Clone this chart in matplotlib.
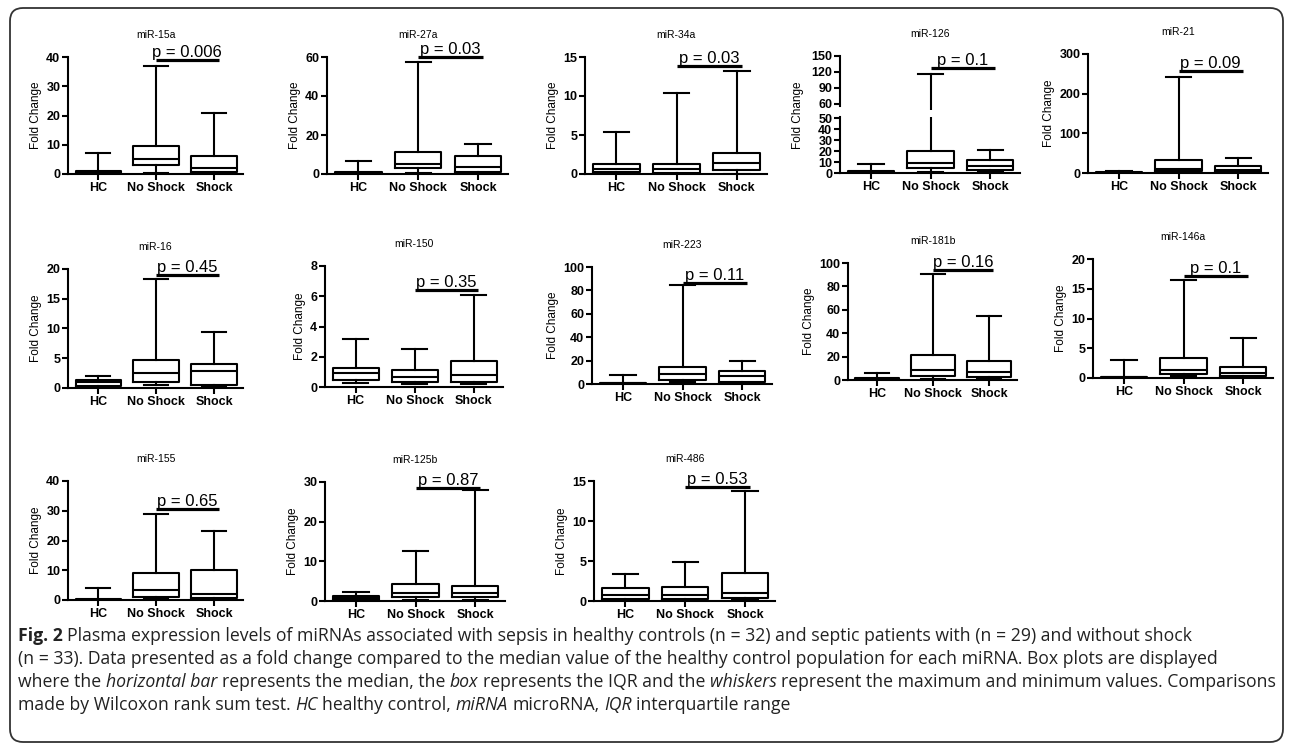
import matplotlib
matplotlib.use("Agg")
import matplotlib.pyplot as plt
from matplotlib.patches import FancyBboxPatch

groups = ["HC", "No Shock", "Shock"]
mirnas = ["miR-15a", "miR-27a", "miR-34a", "miR-126", "miR-21",
          "miR-16", "miR-150", "miR-223", "miR-181b", "miR-146a",
          "miR-155", "miR-125b", "miR-486"]

# one triple per miRNA: (HC, No Shock, Shock)
whisker_low = [(0.05, 0.3, 0.2), (0.05, 0.7, 0.5), (0.05, 0.02, 0.05), (0.2, 0.5, 0.5), (0.3, 1, 1),
               (0.1, 0.5, 0.3), (0.27, 0.18, 0.18), (0.1, 1.4, 0.5), (0.3, 0.9, 0.9), (0.02, 0.3, 0.15),
               (0.0, 0.2, 0.2), (0.1, 0.25, 0.25), (0.1, 0.1, 0.1)]
quartile_1 = [(0.2, 3.1, 0.8), (0.2, 2.9, 1.2), (0.2, 0.1, 0.55), (0.4, 4.5, 2.5), (0.6, 5, 3),
              (0.4, 0.95, 0.55), (0.45, 0.33, 0.33), (0.3, 3.7, 2.0), (0.5, 3.7, 2.3), (0.05, 0.7, 0.4),
              (0.05, 1.1, 0.8), (0.25, 1.1, 1.1), (0.3, 0.3, 0.35)]
medians = [(0.5, 5.0, 1.9), (0.5, 5.1, 3.4), (0.6, 0.65, 1.45), (0.9, 9, 6), (1.0, 10, 8),
           (0.95, 2.5, 2.8), (0.95, 0.65, 0.77), (0.8, 8.5, 7.1), (1.0, 8.5, 7.1), (0.1, 1.3, 0.85),
           (0.1, 3.2, 1.9), (0.7, 2.1, 2.1), (0.8, 0.8, 1.0)]
quartile_3 = [(0.9, 9.7, 6.3), (1.0, 11.5, 9.4), (1.3, 1.3, 2.7), (1.6, 19.6, 12.1), (2.0, 33, 16.5),
              (1.4, 4.65, 4.0), (1.25, 1.1, 1.72), (1.2, 14.2, 11.3), (1.5, 21.3, 16.2), (0.2, 3.35, 1.8),
              (0.3, 9.2, 10.0), (1.3, 4.4, 3.8), (1.6, 1.7, 3.5)]
whisker_high = [(7.1, 36.9, 20.7), (6.5, 57.4, 15.2), (5.4, 10.4, 13.2), (8.5, 116, 21.2), (5.8, 243, 37.5),
                (2.1, 18.3, 9.4), (3.2, 2.5, 6.1), (7.4, 85, 19.3), (5.7, 90.3, 54.8), (3.0, 16.5, 6.8),
                (3.9, 28.8, 23.2), (2.3, 12.6, 27.9), (3.4, 4.9, 13.7)]

p_labels = ["p = 0.006", "p = 0.03", "p = 0.03", "p = 0.1", "p = 0.09",
            "p = 0.45", "p = 0.35", "p = 0.11", "p = 0.16", "p = 0.1",
            "p = 0.65", "p = 0.87", "p = 0.53"]
p_bar_y = [38.9, 59.8, 13.9, 127, 256, 19.0, 6.4, 86.7, 93.7, 17.2, 30.5, 28.6, 14.2]

y_ticks = [[0, 10, 20, 30, 40], [0, 20, 40, 60], [0, 5, 10, 15],
           [0, 10, 20, 30, 40, 50, 60, 90, 120, 150], [0, 100, 200, 300],
           [0, 5, 10, 15, 20], [0, 2, 4, 6, 8], [0, 20, 40, 60, 80, 100],
           [0, 20, 40, 60, 80, 100], [0, 5, 10, 15, 20],
           [0, 10, 20, 30, 40], [0, 10, 20, 30], [0, 5, 10, 15]]

caption_lines = [
    [("Fig. 2", "bold"), (" Plasma expression levels of miRNAs associated with sepsis in healthy controls (n = 32) "
                          "and septic patients with (n = 29) and without shock", "normal")],
    [("(n = 33). Data presented as a fold change compared to the median value of the healthy control "
      "population for each miRNA. Box plots are displayed", "normal")],
    [("where the ", "normal"), ("horizontal bar", "italic"), (" represents the median, the ", "normal"),
     ("box", "italic"), (" represents the IQR and the ", "normal"), ("whiskers", "italic"),
     (" represent the maximum and minimum values. Comparisons", "normal")],
    [("made by Wilcoxon rank sum test. ", "normal"), ("HC", "italic"), (" healthy control, ", "normal"),
     ("miRNA", "italic"), (" microRNA, ", "normal"), ("IQR", "italic"), (" interquartile range", "normal")],
]

# panel boxes in pixels: left, top, right, bottom
panel_px = [(68, 57, 243, 174), (327, 57, 508, 174), (585, 57, 767, 174), (840, 56, 1020, 173),
            (1088, 54, 1268, 173),
            (68, 269, 243, 388), (325, 266, 503, 387), (592, 267, 772, 384), (848, 263, 1017, 380),
            (1093, 259, 1273, 378),
            (68, 481, 243, 600), (325, 482, 505, 601), (594, 481, 775, 601)]

W, H = 1292, 745
plt.rcParams["font.family"] = ["Liberation Sans", "DejaVu Sans"]
plt.rcParams["font.weight"] = "bold"
fig = plt.figure(figsize=(W / 100, H / 100), dpi=100)


def px_rect(l, t, r, b):
    return [l / W, 1 - b / H, (r - l) / W, (b - t) / H]


def style_axis(ax):
    for s in ("top", "right"):
        ax.spines[s].set_visible(False)
    for s in ("left", "bottom"):
        ax.spines[s].set_linewidth(1.5)
    ax.tick_params(axis="both", length=4, width=1.5, labelsize=9, pad=1.5)
    ax.set_xlim(-0.52, 2.5)


def draw_boxes(ax, i):
    stats = []
    for g in range(3):
        stats.append(dict(whislo=whisker_low[i][g], q1=quartile_1[i][g], med=medians[i][g],
                          q3=quartile_3[i][g], whishi=whisker_high[i][g], label=groups[g]))
    lp = dict(color="black", linewidth=1.5)
    ax.bxp(stats, positions=[0, 1, 2], widths=0.78, capwidths=0.42, showfliers=False,
           boxprops=lp, medianprops=lp, whiskerprops=lp, capprops=lp)


def draw_p(ax, i):
    y = p_bar_y[i]
    ax.plot([1.0, 2.08], [y, y], color="black", lw=2.3, clip_on=False, solid_capstyle="butt")
    ax.annotate(p_labels[i], xy=(1.54, y), xytext=(0, 0), textcoords="offset points",
                ha="center", va="bottom", fontsize=12, fontweight="normal", annotation_clip=False)


for i, name in enumerate(mirnas):
    l, t, r, b = panel_px[i]
    if name == "miR-126":
        # broken y axis: 0-51 below, 48-150 above
        low = fig.add_axes(px_rect(l, 117, r, b))
        up = fig.add_axes(px_rect(l, t, r, 110.4))
        for ax in (low, up):
            style_axis(ax)
            draw_boxes(ax, i)
            ax.set_xlim(-0.52, 2.5)
        low.set_ylim(0, 51)
        up.set_ylim(48, 150)
        low.set_yticks([v for v in y_ticks[i] if v <= 50])
        up.set_yticks([v for v in y_ticks[i] if v >= 60])
        low.spines["left"].set_bounds(0, 51)
        up.spines["left"].set_bounds(57, 150)
        up.spines["bottom"].set_visible(False)
        up.tick_params(axis="x", bottom=False, labelbottom=False)
        low.set_xticks([0, 1, 2], groups)
        low.set_ylabel("Fold Change", fontsize=8.5, labelpad=3)
        low.yaxis.set_label_coords(-0.2, 1.03)
        up.set_title(name, fontsize=7.5, pad=14)
        draw_p(up, i)
        continue
    ax = fig.add_axes(px_rect(l, t, r, b))
    style_axis(ax)
    draw_boxes(ax, i)
    ax.set_xlim(-0.52, 2.5)
    ax.set_ylim(0, y_ticks[i][-1])
    ax.set_yticks(y_ticks[i])
    ax.set_xticks([0, 1, 2], groups)
    ax.set_ylabel("Fold Change", fontsize=8.5, labelpad=3)
    ax.set_title(name, fontsize=7.5, pad=14)
    draw_p(ax, i)

# rounded frame round the whole figure
frame = FancyBboxPatch((10 / 100, (H - 742) / 100), (1283 - 10) / 100, (742 - 8) / 100,
                       boxstyle="round,pad=0,rounding_size=0.13", transform=fig.dpi_scale_trans,
                       fill=False, lw=1.3, ec="#333333")
fig.add_artist(frame)

# caption, drawn run by run
renderer = fig.canvas.get_renderer()
cap_font = "Open Sans"


def run_props(style):
    return dict(family=cap_font, fontweight="bold" if style == "bold" else "normal",
                fontstyle="italic" if style == "italic" else "normal")


def text_width(s, size, style):
    t = fig.text(0, 0, s, fontsize=size, **run_props(style))
    w = t.get_window_extent(renderer=renderer).width
    t.remove()
    return w


def run_width(s, size, style):
    sp = text_width("x x", size, style) - text_width("xx", size, style)
    core = s.strip()
    n_lead = len(s) - len(s.lstrip())
    n_trail = len(s) - len(s.rstrip())
    return core, n_lead * sp, text_width(core, size, style), n_trail * sp


def line_width(runs, size):
    total = 0
    for s, st in runs:
        _, a, w, c = run_width(s, size, st)
        total += a + w + c
    return total


# fit the font so the longest line ends where the reference's does
cap_size = 11.0
cap_size *= 1258 / max(line_width(runs, cap_size) for runs in caption_lines)

for k, runs in enumerate(caption_lines):
    x = 18
    y = 636 + 23 * k
    for s, st in runs:
        core, a, w, c = run_width(s, cap_size, st)
        x += a
        fig.text(x / W, 1 - y / H, core, fontsize=cap_size, va="center", ha="left",
                 color="#222222", **run_props(st))
        x += w + c

fig.savefig("out.png", dpi=100)
